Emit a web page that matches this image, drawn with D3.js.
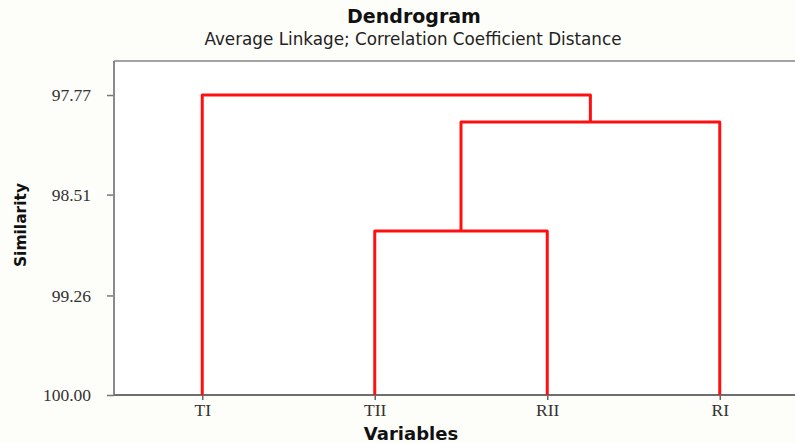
<!DOCTYPE html>
<html>
<head>
<meta charset="utf-8">
<script src="https://cdn.jsdelivr.net/npm/d3@7"></script>
<style>
  body { margin: 0; background: #fdfdf9; }
  svg { display: block; }
</style>
</head>
<body>
<svg id="chart" width="795" height="443"></svg>
<script>
const leaves = ["TI", "TII", "RII", "RI"];
// merge steps, bottom to top (C1, C2, C3 are the clusters they create)
const mergeLeft = ["TII", "C1", "TI"];
const mergeRight = ["RII", "RI", "C2"];
const mergeSimilarity = [98.78, 97.97, 97.77];
const yTicks = [97.77, 98.51, 99.26, 100.00];

const width = 795;
const height = 443;
const plot = {left: 114, top: 61, bottom: 395, right: 806};

const svg = d3.select("#chart");

const x = d3.scalePoint()
  .domain(leaves)
  .range([plot.left + 2, plot.right])
  .padding(0.5);

const y = d3.scaleLinear()
  .domain([100, 97.517])
  .range([plot.bottom, plot.top]);

// plot background
svg.append("rect")
  .attr("x", plot.left)
  .attr("y", plot.top)
  .attr("width", width - plot.left)
  .attr("height", plot.bottom - plot.top)
  .attr("fill", "#ffffff");

// top border
svg.append("line")
  .attr("x1", plot.left).attr("x2", width)
  .attr("y1", plot.top).attr("y2", plot.top)
  .attr("stroke", "#a3a3a3")
  .attr("stroke-width", 2);

const yAxis = d3.axisLeft(y)
  .tickValues(yTicks)
  .tickFormat(d3.format(".2f"))
  .tickSize(7)
  .tickPadding(16);

const yAxisGroup = svg.append("g")
  .attr("transform", `translate(${plot.left}, 0)`)
  .call(yAxis);
yAxisGroup.select(".domain").remove();
yAxisGroup.append("line")
  .attr("x1", 0).attr("x2", 0)
  .attr("y1", plot.top).attr("y2", plot.bottom)
  .attr("stroke", "#8a8a8a")
  .attr("stroke-width", 2);
yAxisGroup.selectAll(".tick line").attr("stroke", "#777").attr("stroke-width", 1.5);
yAxisGroup.selectAll(".tick text")
  .attr("font-family", "'Liberation Serif', 'Times New Roman', serif")
  .attr("font-size", 17.5)
  .attr("fill", "#333");

const xAxis = d3.axisBottom(x)
  .tickSize(5)
  .tickPadding(4);

const xAxisGroup = svg.append("g")
  .attr("transform", `translate(0, ${plot.bottom})`)
  .call(xAxis);
xAxisGroup.select(".domain").remove();
xAxisGroup.append("line")
  .attr("x1", plot.left).attr("x2", width)
  .attr("y1", 0).attr("y2", 0)
  .attr("stroke", "#6e6e6e")
  .attr("stroke-width", 2);
xAxisGroup.selectAll(".tick line").attr("stroke", "#666").attr("stroke-width", 1.5);
xAxisGroup.selectAll(".tick text")
  .attr("font-family", "'Liberation Serif', 'Times New Roman', serif")
  .attr("font-size", 17.5)
  .attr("fill", "#333");

// dendrogram links
const nodeX = new Map(leaves.map((d) => [d, x(d)]));
const nodeY = new Map(leaves.map((d) => [d, y(100)]));
const links = svg.append("g")
  .attr("fill", "none")
  .attr("stroke", "#ff1010")
  .attr("stroke-width", 3)
  .attr("stroke-linejoin", "round");

mergeLeft.forEach((left, i) => {
  const right = mergeRight[i];
  const ym = y(mergeSimilarity[i]);
  const xl = nodeX.get(left);
  const xr = nodeX.get(right);
  links.append("path")
    .attr("d", `M${xl},${nodeY.get(left)}V${ym}H${xr}V${nodeY.get(right)}`);
  const id = `C${i + 1}`;
  nodeX.set(id, (xl + xr) / 2);
  nodeY.set(id, ym);
});

// titles
svg.append("text")
  .attr("x", 414)
  .attr("y", 23)
  .attr("text-anchor", "middle")
  .attr("font-family", "'DejaVu Sans', Verdana, sans-serif")
  .attr("font-weight", "bold")
  .attr("font-size", 19)
  .attr("fill", "#111")
  .text("Dendrogram");

svg.append("text")
  .attr("x", 413)
  .attr("y", 45)
  .attr("text-anchor", "middle")
  .attr("font-family", "'DejaVu Sans', Verdana, sans-serif")
  .attr("font-size", 16.8)
  .attr("fill", "#222")
  .text("Average Linkage; Correlation Coefficient Distance");

svg.append("text")
  .attr("x", 411)
  .attr("y", 440)
  .attr("text-anchor", "middle")
  .attr("font-family", "'DejaVu Sans', Verdana, sans-serif")
  .attr("font-weight", "bold")
  .attr("font-size", 18)
  .attr("fill", "#111")
  .text("Variables");

svg.append("text")
  .attr("transform", "translate(26, 225) rotate(-90)")
  .attr("text-anchor", "middle")
  .attr("font-family", "'DejaVu Sans', Verdana, sans-serif")
  .attr("font-weight", "bold")
  .attr("font-size", 15.5)
  .attr("fill", "#111")
  .text("Similarity");
</script>
</body>
</html>
